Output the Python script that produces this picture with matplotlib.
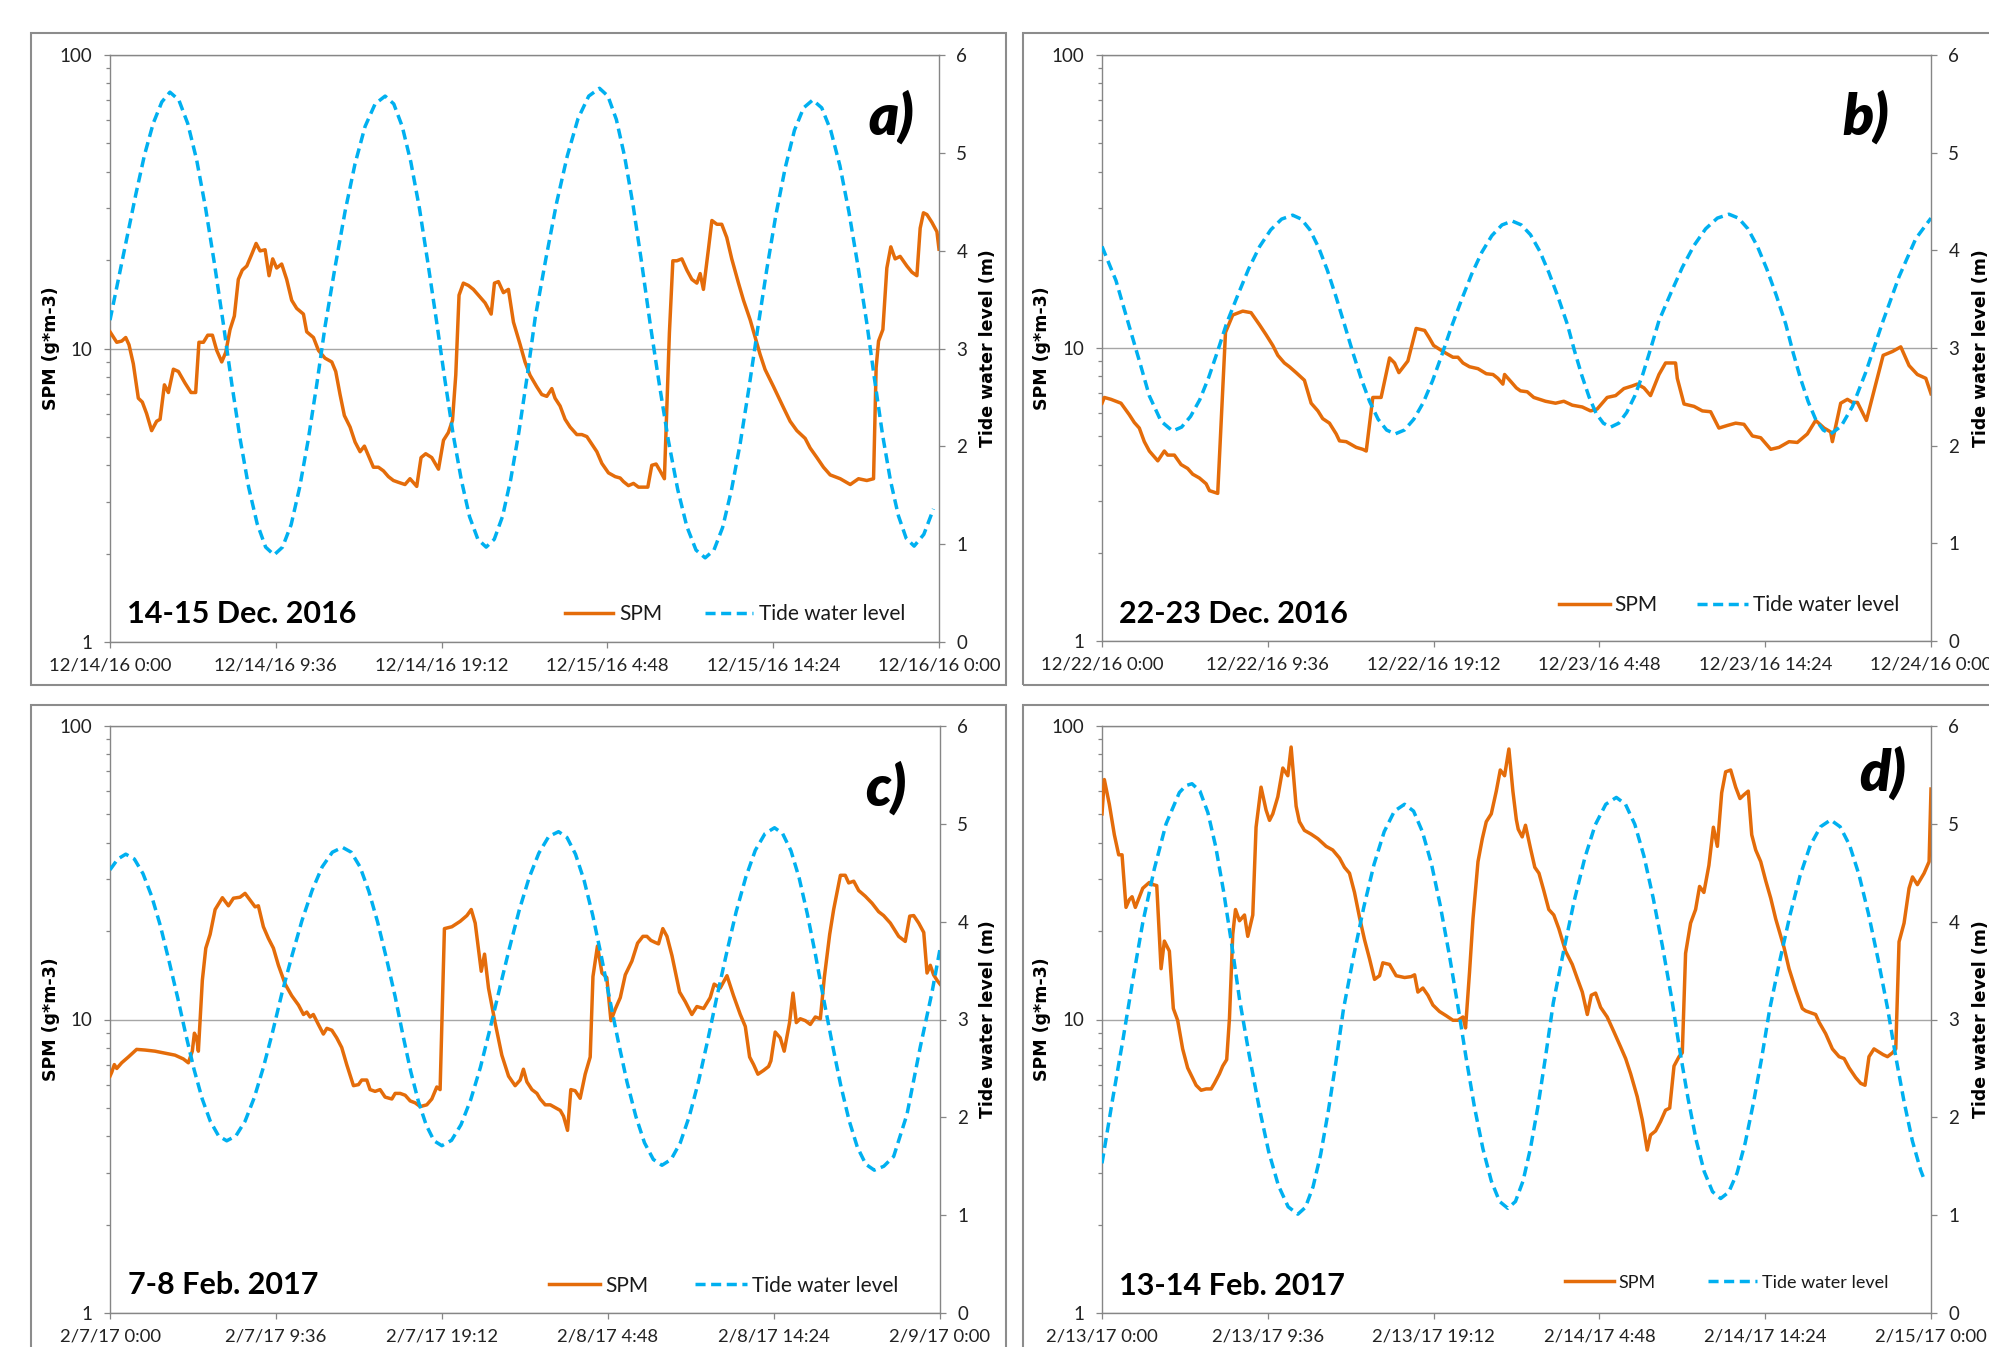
import matplotlib
matplotlib.use("Agg")
import matplotlib.pyplot as plt
from matplotlib.patches import Rectangle
from matplotlib.lines import Line2D
from matplotlib.ticker import FixedLocator, NullFormatter, NullLocator

plt.rcParams['font.family'] = ['Lato', 'DejaVu Sans']

# ---------------- data (x = hours since start of each 48 h window) ----------------
tick_hours = [0, 9.6, 19.2, 28.8, 38.4, 48]
labels_a = ["12/14/16 0:00", "12/14/16 9:36", "12/14/16 19:12", "12/15/16 4:48", "12/15/16 14:24", "12/16/16 0:00"]
labels_b = ["12/22/16 0:00", "12/22/16 9:36", "12/22/16 19:12", "12/23/16 4:48", "12/23/16 14:24", "12/24/16 0:00"]
labels_c = ["2/7/17 0:00", "2/7/17 9:36", "2/7/17 19:12", "2/8/17 4:48", "2/8/17 14:24", "2/9/17 0:00"]
labels_d = ["2/13/17 0:00", "2/13/17 9:36", "2/13/17 19:12", "2/14/17 4:48", "2/14/17 14:24", "2/15/17 0:00"]
titles = ["14-15 Dec. 2016", "22-23 Dec. 2016", "7-8 Feb. 2017", "13-14 Feb. 2017"]
letters = ["a)", "b)", "c)", "d)"]

spm_a_t = [0, 0.39, 0.68, 0.91, 1.10, 1.35, 1.64, 1.87, 2.12, 2.41,
           2.70, 2.90, 3.15, 3.38, 3.67, 3.96, 4.34, 4.69, 4.96, 5.15,
           5.41, 5.66, 5.93, 6.18, 6.47, 6.70, 6.95, 7.20, 7.43, 7.66,
           7.92, 8.20, 8.46, 8.69, 8.98, 9.21, 9.42, 9.65, 9.94, 10.23,
           10.52, 10.81, 11.20, 11.39, 11.78, 12.07, 12.45, 12.84, 13.07, 13.32,
           13.57, 13.90, 14.19, 14.48, 14.73, 14.96, 15.25, 15.54, 15.83, 16.12,
           16.41, 16.70, 17.08, 17.37, 17.76, 18.01, 18.28, 18.63, 19.02, 19.31,
           19.59, 19.83, 20.02, 20.21, 20.46, 20.75, 21.04, 21.33, 21.72, 22.07,
           22.26, 22.49, 22.78, 23.07, 23.36, 23.75, 24.03, 24.32, 24.71, 25.0,
           25.29, 25.58, 25.77, 26.06, 26.35, 26.64, 27.03, 27.32, 27.61, 27.90,
           28.19, 28.48, 28.86, 29.25, 29.54, 29.73, 30.02, 30.31, 30.60, 31.14,
           31.37, 31.62, 31.85, 32.10, 32.24, 32.39, 32.59, 32.82, 33.11, 33.40,
           33.69, 33.98, 34.17, 34.36, 34.65, 34.85, 35.14, 35.42, 35.71, 36.0,
           36.39, 36.68, 37.07, 37.36, 37.64, 37.93, 38.42, 39.0, 39.38, 39.77,
           40.25, 40.54, 40.93, 41.31, 41.70, 42.28, 42.86, 43.34, 43.82, 44.21,
           44.36, 44.50, 44.75, 44.98, 45.21, 45.46, 45.75, 46.14, 46.43, 46.72,
           46.91, 47.10, 47.30, 47.59, 47.88, 48.0]
spm_a = [11.4, 10.5, 10.6, 10.9, 10.3, 8.87, 6.77, 6.57, 6.0, 5.25,
         5.65, 5.74, 7.52, 7.08, 8.5, 8.35, 7.63, 7.08, 7.08, 10.5,
         10.5, 11.1, 11.1, 9.85, 9.0, 9.70, 11.6, 12.9, 17.2, 18.5,
         19.1, 20.9, 22.8, 21.5, 21.7, 17.7, 20.2, 18.8, 19.4, 17.2,
         14.6, 13.7, 13.1, 11.4, 10.9, 9.85, 9.27, 9.0, 8.35, 6.97,
         5.91, 5.40, 4.80, 4.45, 4.65, 4.32, 3.94, 3.94, 3.83, 3.66,
         3.55, 3.50, 3.44, 3.60, 3.39, 4.25, 4.38, 4.25, 3.88, 4.87,
         5.17, 5.69, 8.11, 15.2, 16.7, 16.4, 15.9, 15.2, 14.3, 13.1,
         16.7, 16.9, 15.5, 15.9, 12.3, 10.3, 9.0, 8.11, 7.41, 6.97,
         6.87, 7.30, 6.77, 6.37, 5.74, 5.40, 5.09, 5.09, 5.01, 4.72,
         4.45, 4.06, 3.77, 3.66, 3.62, 3.52, 3.41, 3.47, 3.37, 3.37,
         4.0, 4.04, 3.83, 3.60, 6.18, 11.3, 19.9, 19.9, 20.2, 18.5,
         17.2, 16.7, 18.0, 15.9, 21.8, 27.3, 26.5, 26.5, 23.9, 20.2,
         16.7, 14.6, 12.5, 10.9, 9.55, 8.48, 7.41, 6.28, 5.65, 5.25,
         4.94, 4.58, 4.25, 3.94, 3.71, 3.60, 3.44, 3.60, 3.55, 3.60,
         8.60, 10.6, 11.6, 18.8, 22.2, 20.2, 20.6, 19.1, 18.2, 17.7,
         25.7, 29.0, 28.6, 26.9, 25.0, 21.8]

tide_a_t = [0, 0.5, 1.0, 1.5, 2.0, 2.5, 3.0,
            3.47, 3.985, 4.50, 5.015, 5.53, 6.045, 6.56,
            7.05, 7.54, 8.03, 8.52, 9.01, 9.50,
            9.99, 10.49, 10.98, 11.47, 11.97, 12.46,
            13.04, 13.62, 14.19, 14.77, 15.35, 15.93,
            16.43, 16.92, 17.42, 17.92, 18.41, 18.91,
            19.39, 19.87, 20.35, 20.82, 21.30, 21.78,
            22.25, 22.73, 23.20, 23.67, 24.15, 24.62,
            25.24, 25.86, 26.48, 27.10, 27.72, 28.34,
            28.83, 29.32, 29.80, 30.29, 30.78, 31.27,
            31.80, 32.33, 32.87, 33.40, 33.93, 34.46,
            34.97, 35.47, 35.98, 36.49, 36.99, 37.50,
            38.03, 38.56, 39.10, 39.63, 40.16, 40.69,
            41.21, 41.73, 42.26, 42.78, 43.30, 43.82,
            44.28, 44.73, 45.19, 45.65, 46.10, 46.56,
            47.12, 47.68]
tide_a = [3.29, 3.72, 4.15, 4.58, 4.98, 5.30, 5.52,
          5.62, 5.54, 5.30, 4.93, 4.44, 3.87, 3.255,
          2.64, 2.07, 1.58, 1.21, 0.97, 0.89,
          0.97, 1.20, 1.58, 2.06, 2.63, 3.235,
          3.84, 4.41, 4.89, 5.27, 5.50, 5.58,
          5.50, 5.27, 4.905, 4.43, 3.87, 3.275,
          2.68, 2.12, 1.65, 1.28, 1.05, 0.97,
          1.05, 1.285, 1.66, 2.14, 2.71, 3.315,
          3.92, 4.49, 4.97, 5.35, 5.58, 5.66,
          5.58, 5.34, 4.96, 4.46, 3.88, 3.26,
          2.64, 2.06, 1.56, 1.18, 0.94, 0.86,
          0.94, 1.17, 1.55, 2.03, 2.59, 3.20,
          3.81, 4.37, 4.85, 5.23, 5.46, 5.54,
          5.46, 5.23, 4.87, 4.40, 3.85, 3.26,
          2.67, 2.12, 1.65, 1.29, 1.06, 0.98,
          1.10, 1.36]

spm_b_t = [0, 0.135, 0.52, 1.10, 1.58, 1.87, 2.16, 2.45, 2.74, 3.23,
           3.61, 3.80, 4.19, 4.58, 4.96, 5.25, 5.64, 6.03, 6.22, 6.70,
           7.15, 7.57, 8.15, 8.63, 9.12, 9.50, 9.89, 10.18, 10.56, 10.85,
           11.24, 11.72, 12.11, 12.50, 12.78, 13.17, 13.56, 13.75, 14.14, 14.72,
           15.10, 15.30, 15.68, 16.16, 16.65, 16.94, 17.19, 17.71, 18.19, 18.68,
           18.96, 19.20, 19.74, 20.32, 20.61, 20.90, 21.28, 21.77, 22.25, 22.64,
           22.92, 23.21, 23.31, 23.70, 23.99, 24.23, 24.62, 25.0, 25.68, 26.26,
           26.74, 27.23, 27.81, 28.29, 28.67, 29.25, 29.74, 30.22, 30.70, 30.99,
           31.38, 31.76, 32.25, 32.63, 32.92, 33.21, 33.31, 33.70, 34.28, 34.76,
           35.24, 35.72, 36.21, 36.69, 37.17, 37.66, 38.14, 38.72, 39.20, 39.78,
           40.26, 40.84, 41.32, 41.81, 42.19, 42.29, 42.77, 43.16, 43.45, 43.74,
           44.26, 44.80, 45.23, 45.77, 46.25, 46.73, 47.21, 47.70, 48.0]
spm_b = [6.48, 6.78, 6.68, 6.48, 5.92, 5.57, 5.33, 4.79, 4.45, 4.12,
         4.45, 4.31, 4.31, 4.0, 3.88, 3.71, 3.60, 3.44, 3.26, 3.19,
         11.3, 12.96, 13.36, 13.2, 12.0, 11.1, 10.2, 9.44, 8.89, 8.63,
         8.24, 7.76, 6.48, 6.10, 5.74, 5.54, 5.09, 4.82, 4.79, 4.58,
         4.51, 4.45, 6.78, 6.78, 9.25, 8.89, 8.24, 9.03, 11.66, 11.48,
         10.8, 10.2, 9.73, 9.30, 9.30, 8.89, 8.63, 8.50, 8.17, 8.12,
         7.88, 7.53, 8.12, 7.65, 7.31, 7.14, 7.09, 6.78, 6.58, 6.48,
         6.58, 6.38, 6.29, 6.10, 6.19, 6.78, 6.88, 7.27, 7.42, 7.53,
         7.31, 6.88, 8.12, 8.89, 8.89, 8.89, 7.88, 6.44, 6.32, 6.10,
         6.06, 5.33, 5.44, 5.54, 5.49, 5.01, 4.94, 4.51, 4.58, 4.79,
         4.76, 5.09, 5.66, 5.33, 5.17, 4.79, 6.48, 6.68, 6.52, 6.52,
         5.66, 7.53, 9.44, 9.73, 10.09, 8.71, 8.12, 7.88, 6.98]

tide_b_t = [0, 0.81, 1.58, 2.16, 2.74, 3.42,
            4.09, 4.61, 5.13, 5.66, 6.18, 6.70, 7.22,
            7.86, 8.49, 9.13, 9.77, 10.40, 11.04,
            11.54, 12.04, 12.54, 13.04, 13.54, 14.04,
            14.53, 15.02, 15.50, 15.99, 16.48, 16.97,
            17.51, 18.05, 18.60, 19.14, 19.68, 20.22,
            20.81, 21.40, 21.99, 22.57, 23.16, 23.75,
            24.28, 24.81, 25.35, 25.88, 26.41, 26.94,
            27.36, 27.78, 28.20, 28.61, 29.03, 29.45,
            29.92, 30.38, 30.85, 31.32, 31.78, 32.25,
            32.93, 33.60, 34.28, 34.95, 35.63, 36.30,
            36.85, 37.40, 37.95, 38.49, 39.04, 39.59,
            40.02, 40.46, 40.89, 41.32, 41.76, 42.19,
            42.80, 43.45, 44.22, 45.19, 46.15, 47.12, 48.0]
tide_b = [4.04, 3.69, 3.22, 2.87, 2.51, 2.25,
          2.15, 2.19, 2.30, 2.47, 2.70, 2.97, 3.255,
          3.54, 3.81, 4.04, 4.21, 4.32, 4.36,
          4.32, 4.21, 4.03, 3.80, 3.53, 3.24,
          2.95, 2.68, 2.45, 2.27, 2.16, 2.12,
          2.16, 2.27, 2.44, 2.665, 2.93, 3.21,
          3.49, 3.755, 3.98, 4.15, 4.26, 4.30,
          4.26, 4.16, 3.99, 3.77, 3.52, 3.245,
          2.97, 2.72, 2.50, 2.33, 2.23, 2.19,
          2.23, 2.34, 2.51, 2.735, 3.0, 3.28,
          3.56, 3.825, 4.05, 4.22, 4.33, 4.37,
          4.33, 4.22, 4.04, 3.81, 3.54, 3.245,
          2.95, 2.68, 2.45, 2.27, 2.16, 2.12,
          2.20, 2.40, 2.75, 3.26, 3.73, 4.12, 4.33]

spm_c_t = [0, 0.10, 0.25, 0.39, 0.675, 1.06, 1.54, 2.025, 2.60, 3.18,
           3.76, 4.24, 4.53, 4.76, 4.88, 5.01, 5.11, 5.34, 5.54, 5.79,
           6.08, 6.50, 6.85, 7.14, 7.52, 7.81, 8.10, 8.39, 8.58, 8.87,
           9.16, 9.45, 9.74, 10.13, 10.51, 10.90, 11.19, 11.38, 11.57, 11.76,
           12.05, 12.34, 12.54, 12.83, 13.11, 13.40, 13.69, 14.08, 14.37, 14.56,
           14.85, 15.04, 15.33, 15.62, 15.91, 16.30, 16.49, 16.78, 17.07, 17.36,
           17.65, 17.94, 18.32, 18.61, 18.90, 19.09, 19.34, 19.77, 20.25, 20.64,
           20.89, 21.12, 21.31, 21.47, 21.66, 21.89, 22.27, 22.66, 23.05, 23.43,
           23.72, 23.91, 24.11, 24.40, 24.69, 24.88, 25.17, 25.46, 25.75, 26.04,
           26.23, 26.46, 26.65, 26.90, 27.19, 27.48, 27.77, 27.93, 28.19, 28.45,
           28.73, 28.97, 29.22, 29.51, 29.80, 30.18, 30.51, 30.82, 31.05, 31.28,
           31.53, 31.72, 31.97, 32.21, 32.50, 32.94, 33.27, 33.65, 33.94, 34.33,
           34.71, 34.94, 35.29, 35.68, 36.06, 36.45, 36.74, 36.99, 37.22, 37.47,
           37.80, 38.09, 38.22, 38.47, 38.76, 38.99, 39.30, 39.50, 39.69, 39.92,
           40.21, 40.50, 40.79, 41.08, 41.31, 41.62, 41.85, 42.24, 42.52, 42.72,
           43.01, 43.30, 43.68, 44.07, 44.45, 44.74, 45.13, 45.61, 45.99, 46.25,
           46.48, 46.77, 47.06, 47.25, 47.44, 47.63, 47.83, 48.0]
spm_c = [6.41, 6.61, 7.02, 6.81, 7.12, 7.45, 7.91, 7.87, 7.80, 7.68,
         7.56, 7.34, 7.12, 7.80, 8.98, 8.66, 7.80, 13.6, 17.5, 19.5,
         23.7, 26.0, 24.4, 25.9, 26.1, 26.9, 25.5, 24.2, 24.4, 20.7,
         18.9, 17.5, 15.3, 13.2, 12.05, 11.2, 10.4, 10.6, 10.2, 10.4,
         9.62, 8.92, 9.33, 9.19, 8.66, 8.03, 7.02, 5.95, 6.0, 6.22,
         6.22, 5.77, 5.69, 5.77, 5.44, 5.36, 5.60, 5.60, 5.52, 5.28,
         5.20, 5.05, 5.12, 5.36, 5.89, 5.77, 20.4, 20.7, 21.6, 22.6,
         23.7, 21.3, 17.3, 14.6, 16.7, 12.8, 9.76, 7.56, 6.41, 5.95,
         6.22, 6.77, 6.13, 5.77, 5.60, 5.36, 5.12, 5.12, 5.01, 4.90,
         4.68, 4.19, 5.77, 5.72, 5.39, 6.51, 7.45, 14.0, 17.8, 14.4,
         13.9, 9.91, 10.85, 11.87, 14.2, 15.8, 18.2, 19.2, 19.2, 18.6,
         18.3, 18.1, 20.4, 19.2, 16.5, 12.4, 11.5, 10.4, 11.07, 10.9,
         11.87, 13.2, 12.8, 14.1, 12.05, 10.4, 9.47, 7.45, 7.02, 6.51,
         6.71, 6.92, 7.23, 9.06, 8.66, 7.80, 9.76, 12.3, 9.76, 10.06,
         9.91, 9.62, 10.2, 10.06, 13.9, 19.5, 23.7, 31.0, 31.0, 29.2,
         29.6, 27.5, 26.3, 24.9, 23.3, 22.6, 21.3, 19.2, 18.45, 22.5,
         22.6, 21.3, 19.8, 14.4, 15.3, 14.2, 13.6, 13.2]

tide_c_t = [0, 0.45,
            0.91, 1.41, 1.91, 2.41, 2.91, 3.41, 3.91,
            4.38, 4.86, 5.33, 5.80, 6.28, 6.75,
            7.28, 7.81, 8.34, 8.87, 9.40, 9.93,
            10.52, 11.10, 11.69, 12.27, 12.86, 13.44,
            13.95, 14.46, 14.97, 15.47, 15.98, 16.49,
            16.94, 17.39, 17.84, 18.29, 18.74, 19.19,
            19.75, 20.30, 20.86, 21.42, 21.97, 22.53,
            23.10, 23.67, 24.24, 24.80, 25.37, 25.94,
            26.43, 26.92, 27.42, 27.91, 28.40, 28.89,
            29.40, 29.90, 30.41, 30.91, 31.42, 31.92,
            32.45, 32.98, 33.51, 34.04, 34.57, 35.10,
            35.66, 36.21, 36.77, 37.32, 37.88, 38.43,
            38.90, 39.38, 39.85, 40.32, 40.80, 41.27,
            41.76, 42.25, 42.74, 43.22, 43.71, 44.20,
            44.75, 45.32, 46.09, 46.86, 47.54, 48.0]
tide_c = [4.53, 4.64,
          4.69, 4.64, 4.49, 4.26, 3.96, 3.60, 3.225,
          2.85, 2.49, 2.19, 1.96, 1.81, 1.76,
          1.81, 1.96, 2.20, 2.51, 2.87, 3.26,
          3.65, 4.01, 4.32, 4.56, 4.71, 4.76,
          4.71, 4.56, 4.31, 4.00, 3.63, 3.235,
          2.84, 2.47, 2.16, 1.92, 1.76, 1.71,
          1.765, 1.925, 2.18, 2.51, 2.90, 3.315,
          3.73, 4.12, 4.45, 4.70, 4.87, 4.92,
          4.86, 4.69, 4.42, 4.07, 3.66, 3.215,
          2.77, 2.36, 2.01, 1.74, 1.57, 1.51,
          1.57, 1.74, 2.015, 2.37, 2.79, 3.235,
          3.68, 4.10, 4.455, 4.73, 4.90, 4.96,
          4.90, 4.725, 4.45, 4.085, 3.66, 3.21,
          2.76, 2.335, 1.97, 1.695, 1.52, 1.46,
          1.50, 1.60, 2.03, 2.72, 3.28, 3.72]

spm_d_t = [0, 0.135, 0.425, 0.715, 0.966, 1.16, 1.39, 1.58, 1.74, 1.93,
           2.36, 2.74, 2.97, 3.17, 3.42, 3.61, 3.90, 4.13, 4.38, 4.67,
           4.96, 5.45, 5.74, 6.03, 6.32, 6.51, 6.80, 6.99, 7.22, 7.38,
           7.57, 7.73, 7.96, 8.25, 8.44, 8.73, 8.92, 9.21, 9.50, 9.70,
           9.89, 10.18, 10.47, 10.76, 10.95, 11.24, 11.43, 11.72, 12.11, 12.50,
           12.98, 13.36, 13.75, 14.04, 14.33, 14.62, 14.91, 15.20, 15.49, 15.78,
           16.07, 16.26, 16.65, 17.03, 17.52, 17.90, 18.10, 18.29, 18.58, 18.87,
           19.16, 19.54, 19.93, 20.32, 20.61, 20.90, 21.05, 21.28, 21.48, 21.77,
           22.02, 22.25, 22.54, 22.83, 23.06, 23.31, 23.56, 23.79, 23.99, 24.10,
           24.33, 24.52, 24.81, 25.06, 25.30, 25.58, 25.87, 26.16, 26.45, 26.84,
           27.23, 27.52, 27.81, 28.10, 28.33, 28.58, 28.87, 29.25, 29.64, 30.03,
           30.32, 30.61, 30.99, 31.28, 31.57, 31.76, 32.05, 32.34, 32.63, 32.87,
           33.12, 33.41, 33.60, 33.79, 34.08, 34.37, 34.60, 34.85, 35.14, 35.40,
           35.63, 35.88, 36.11, 36.40, 36.69, 36.94, 37.17, 37.42, 37.62, 37.85,
           38.14, 38.43, 38.72, 39.01, 39.30, 39.49, 39.78, 40.17, 40.55, 40.74,
           41.03, 41.32, 41.52, 41.90, 42.29, 42.68, 42.97, 43.26, 43.64, 43.93,
           44.18, 44.41, 44.70, 44.99, 45.23, 45.48, 45.77, 45.96, 46.15, 46.44,
           46.73, 46.93, 47.21, 47.60, 47.89, 48.0]
spm_d = [50.2, 65.7, 54.1, 42.6, 36.4, 36.4, 24.1, 25.6, 26.2, 24.1,
         28.0, 29.3, 28.8, 28.6, 14.9, 18.5, 17.1, 10.9, 9.94, 7.94,
         6.84, 5.97, 5.74, 5.80, 5.80, 6.06, 6.53, 6.94, 7.30, 10.09,
         19.5, 23.7, 21.7, 22.7, 19.2, 22.7, 45.2, 61.9, 51.7, 47.7,
         50.2, 57.4, 71.9, 67.7, 84.8, 53.3, 47.2, 44.1, 42.8, 41.3,
         38.9, 37.8, 35.5, 33.0, 31.5, 27.1, 22.3, 18.7, 16.1, 13.7,
         14.1, 15.6, 15.4, 14.1, 13.9, 14.0, 14.2, 12.4, 12.8, 12.1,
         11.2, 10.65, 10.3, 9.94, 9.94, 10.2, 9.36, 14.5, 22.0, 34.5,
         41.3, 47.2, 50.2, 60.0, 70.8, 67.7, 83.5, 60.0, 48.0, 44.5,
         41.9, 45.9, 38.3, 33.0, 31.5, 27.5, 23.7, 22.7, 20.4, 17.1,
         15.4, 13.8, 12.4, 10.4, 12.1, 12.3, 11.0, 10.2, 9.08, 8.06,
         7.36, 6.53, 5.46, 4.56, 3.59, 4.04, 4.17, 4.49, 4.91, 4.99,
         6.94, 7.47, 7.70, 16.8, 21.3, 23.7, 28.4, 27.1, 33.5, 45.2,
         38.9, 59.2, 69.8, 70.8, 61.9, 56.6, 58.3, 60.0, 42.6, 37.8,
         34.5, 29.7, 25.9, 22.0, 19.2, 17.6, 14.9, 12.6, 10.9, 10.7,
         10.55, 10.4, 9.79, 8.95, 7.94, 7.47, 7.36, 6.84, 6.34, 6.06,
         5.97, 7.47, 7.94, 7.75, 7.59, 7.47, 7.70, 7.94, 18.4, 21.3,
         28.0, 30.6, 28.8, 31.5, 34.5, 61.0]

tide_d_t = [0, 0.62, 1.20, 1.78, 2.36, 3.03, 3.71, 4.48, 4.85,
            5.21, 5.67, 6.13, 6.58, 7.04, 7.50, 7.96,
            8.52, 9.09, 9.65, 10.21, 10.78, 11.34,
            11.78, 12.22, 12.66, 13.10, 13.54, 13.98,
            14.57, 15.16, 15.75, 16.34, 16.93, 17.52,
            18.04, 18.55, 19.07, 19.58, 20.10, 20.61,
            21.09, 21.57, 22.06, 22.54, 23.02, 23.50,
            23.94, 24.38, 24.81, 25.25, 25.69, 26.13,
            26.74, 27.35, 27.96, 28.56, 29.17, 29.78,
            30.31, 30.85, 31.38, 31.91, 32.45, 32.98,
            33.45, 33.93, 34.40, 34.87, 35.35, 35.82,
            36.29, 36.77, 37.24, 37.71, 38.19, 38.66,
            39.25, 39.84, 40.42, 41.01, 41.60, 42.19,
            42.74, 43.29, 43.83, 44.38, 44.93, 45.48,
            45.96, 46.44, 46.92, 47.40, 47.66]
tide_d = [1.53, 2.19, 2.78, 3.40, 3.99, 4.54, 5.00, 5.32, 5.39,
          5.41, 5.335, 5.115, 4.77, 4.31, 3.78, 3.21,
          2.64, 2.11, 1.65, 1.305, 1.085, 1.01,
          1.08, 1.29, 1.62, 2.06, 2.56, 3.105,
          3.65, 4.15, 4.585, 4.92, 5.13, 5.20,
          5.13, 4.92, 4.595, 4.17, 3.67, 3.135,
          2.60, 2.10, 1.675, 1.35, 1.14, 1.07,
          1.14, 1.35, 1.685, 2.12, 2.63, 3.17,
          3.71, 4.22, 4.655, 4.99, 5.20, 5.27,
          5.20, 4.995, 4.67, 4.245, 3.75, 3.22,
          2.69, 2.195, 1.77, 1.445, 1.24, 1.17,
          1.236, 1.43, 1.737, 2.14, 2.60, 3.105,
          3.605, 4.07, 4.47, 4.78, 4.97, 5.04,
          4.97, 4.78, 4.48, 4.08, 3.62, 3.12,
          2.62, 2.16, 1.76, 1.46, 1.34]

for a_, b_ in [(spm_a_t, spm_a), (spm_b_t, spm_b), (spm_c_t, spm_c), (spm_d_t, spm_d),
               (tide_a_t, tide_a), (tide_b_t, tide_b), (tide_c_t, tide_c), (tide_d_t, tide_d)]:
    assert len(a_) == len(b_), (len(a_), len(b_))

# ---------------- styling / layout ----------------
W, H = 1989, 1347
ORANGE = '#E46C0A'
BLUE = '#00B0F0'
AXC = '#868686'
GRID = '#A6A6A6'
FRAME = '#8C8C8C'
TXT = '#222222'


def fx(px):
    return px / W


def fy(py):
    return 1 - py / H


def rect_px(l, t, r, b):
    return [l / W, 1 - b / H, (r - l) / W, (b - t) / H]


panels = [
    dict(spm_t=spm_a_t, spm=spm_a, tide_t=tide_a_t, tide=tide_a, labels=labels_a,
         ax=(110, 55, 939, 642), frame=(31, 33, 1006, 685),
         title_xy=(127, 623), letter_xy=(891, 117),
         leg=dict(x=565, y=614.5, fs=15, hl=2.3, tp=0.29, cs=2.07),
         ylab_l=-0.0712, ylab_r=1.0597),
    dict(spm_t=spm_b_t, spm=spm_b, tide_t=tide_b_t, tide=tide_b, labels=labels_b,
         ax=(1102, 55, 1931, 641), frame=(1023, 33, 2010, 685),
         title_xy=(1119, 623), letter_xy=(1866, 117),
         leg=dict(x=1559, y=605, fs=15, hl=2.45, tp=0.2, cs=1.92),
         ylab_l=-0.0724, ylab_r=1.0603),
    dict(spm_t=spm_c_t, spm=spm_c, tide_t=tide_c_t, tide=tide_c, labels=labels_c,
         ax=(110, 726, 940, 1313), frame=(31, 705, 1006, 1380),
         title_xy=(128, 1294), letter_xy=(886, 788),
         leg=dict(x=549, y=1285.6, fs=15, hl=2.45, tp=0.25, cs=2.26),
         ylab_l=-0.0711, ylab_r=1.0584),
    dict(spm_t=spm_d_t, spm=spm_d, tide_t=tide_d_t, tide=tide_d, labels=labels_d,
         ax=(1102, 726, 1931, 1313), frame=(1023, 705, 2010, 1380),
         title_xy=(1119, 1295), letter_xy=(1883, 773),
         leg=dict(x=1565, y=1282.6, fs=13, hl=2.7, tp=0.28, cs=2.9),
         ylab_l=-0.0724, ylab_r=1.0603),
]

fig = plt.figure(figsize=(W / 100, H / 100), dpi=100)
fig.patch.set_facecolor('white')

for i, p in enumerate(panels):
    l, t, r, b = p['frame']
    fig.add_artist(Rectangle((fx(l), fy(b)), (r - l) / W, (b - t) / H,
                             transform=fig.transFigure, fill=False,
                             edgecolor=FRAME, linewidth=1.5, zorder=0))

    ax = fig.add_axes(rect_px(*p['ax']))
    ax2 = ax.twinx()

    ax.plot(p['spm_t'], p['spm'], color=ORANGE, lw=2.5,
            solid_joinstyle='round', zorder=3)
    ax2.plot(p['tide_t'], p['tide'], color=BLUE, lw=2.5,
             dashes=(2.9, 1.6), dash_capstyle='butt')

    # primary (log) axis
    ax.set_yscale('log')
    ax.set_ylim(1, 100)
    ax.set_xlim(0, 48)
    ax.set_yticks([1, 10, 100], labels=['1', '10', '100'])
    ax.yaxis.set_minor_locator(FixedLocator([2, 3, 4, 5, 6, 7, 8, 9,
                                             20, 30, 40, 50, 60, 70, 80, 90]))
    ax.yaxis.set_minor_formatter(NullFormatter())
    ax.set_xticks(tick_hours, labels=p['labels'])
    ax.xaxis.set_minor_locator(NullLocator())
    ax.yaxis.grid(True, which='major', color=GRID, lw=1.0)
    ax.set_axisbelow(True)

    ax2.set_ylim(0, 6)
    ax2.set_yticks(range(7), labels=[str(k) for k in range(7)])
    ax2.yaxis.set_minor_locator(NullLocator())

    for sname, sp in ax.spines.items():
        sp.set_color(AXC)
        sp.set_linewidth(1.0)
    ax.spines['right'].set_visible(False)
    for sname, sp in ax2.spines.items():
        sp.set_visible(sname == 'right')
        sp.set_color(AXC)
        sp.set_linewidth(1.0)

    ax.tick_params(axis='y', which='major', direction='out', length=4.5, width=0.9,
                   color=AXC, pad=8, labelsize=13.5, labelcolor=TXT, right=False)
    ax.tick_params(axis='y', which='minor', direction='out', length=3, width=0.9,
                   color=AXC, right=False)
    ax.tick_params(axis='x', which='major', direction='out', length=4.5, width=0.9,
                   color=AXC, pad=7, labelsize=13.3, labelcolor=TXT, top=False)
    ax2.tick_params(axis='y', which='major', direction='out', length=4.5, width=0.9,
                    color=AXC, pad=8, labelsize=13.5, labelcolor=TXT)

    ax.set_ylabel('SPM (g*m-3)', fontsize=12.5, fontweight='bold',
                  family='DejaVu Sans', color='black')
    ax.yaxis.set_label_coords(p['ylab_l'], 0.5)
    ax.yaxis.label.set_va('center')
    ax2.set_ylabel('Tide water level (m)', fontsize=12.5, fontweight='bold',
                   family='DejaVu Sans', color='black', rotation=90)
    ax2.yaxis.set_label_coords(p['ylab_r'], 0.5)
    ax2.yaxis.label.set_va('center')

    lg = p['leg']
    h1 = Line2D([], [], color=ORANGE, lw=2.5)
    h2 = Line2D([], [], color=BLUE, lw=2.5, dashes=(2.9, 1.6), dash_capstyle='butt')
    leg = ax2.legend([h1, h2], ['SPM', 'Tide water level'], loc='center left',
                     bbox_to_anchor=(fx(lg['x']), fy(lg['y'])),
                     bbox_transform=fig.transFigure, ncol=2, frameon=False,
                     fontsize=lg['fs'], handlelength=lg['hl'],
                     handletextpad=lg['tp'], columnspacing=lg['cs'],
                     borderpad=0, borderaxespad=0)
    for txt in leg.get_texts():
        txt.set_color('#1a1a1a')

    fig.text(fx(p['title_xy'][0]), fy(p['title_xy'][1]), titles[i],
             fontsize=22, fontweight='bold', ha='left', va='baseline', color='black')
    fig.text(fx(p['letter_xy'][0]), fy(p['letter_xy'][1]), letters[i],
             fontsize=41, fontweight='heavy', style='italic', ha='center',
             va='center', color='black')

fig.savefig('out.png', dpi=100, facecolor='white')
